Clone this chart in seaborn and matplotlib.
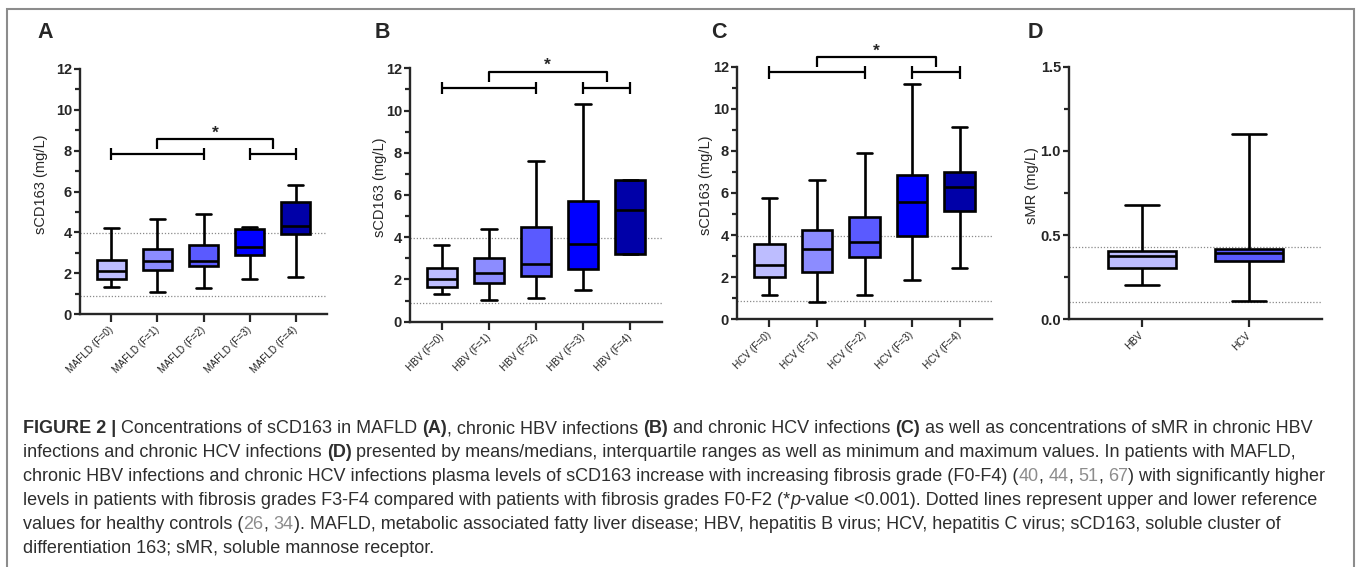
import numpy as np
import pandas as pd
import matplotlib
matplotlib.use("Agg")
import matplotlib.pyplot as plt
from matplotlib import font_manager
from matplotlib.patches import Rectangle
from matplotlib.ticker import MultipleLocator, FormatStrFormatter
import seaborn as sns

# five-number summaries: min, q1, median, q3, max
mafld_labels = ["MAFLD (F=0)", "MAFLD (F=1)", "MAFLD (F=2)", "MAFLD (F=3)", "MAFLD (F=4)"]
mafld_min = [1.32, 1.09, 1.27, 1.71, 1.79]
mafld_q1 = [1.71, 2.15, 2.35, 2.91, 3.91]
mafld_med = [2.12, 2.59, 2.60, 3.29, 4.30]
mafld_q3 = [2.65, 3.18, 3.39, 4.16, 5.51]
mafld_max = [4.23, 4.64, 4.90, 4.28, 6.34]

hbv_labels = ["HBV (F=0)", "HBV (F=1)", "HBV (F=2)", "HBV (F=3)", "HBV (F=4)"]
hbv_min = [1.31, 1.03, 1.14, 1.50, 3.19]
hbv_q1 = [1.66, 1.82, 2.18, 2.48, 3.19]
hbv_med = [2.02, 2.31, 2.72, 3.68, 5.29]
hbv_q3 = [2.56, 3.03, 4.50, 5.72, 6.73]
hbv_max = [3.62, 4.38, 7.61, 10.31, 6.73]

hcv_labels = ["HCV (F=0)", "HCV (F=1)", "HCV (F=2)", "HCV (F=3)", "HCV (F=4)"]
hcv_min = [1.14, 0.84, 1.14, 1.87, 2.42]
hcv_q1 = [2.03, 2.26, 2.95, 3.96, 5.16]
hcv_med = [2.58, 3.33, 3.66, 5.59, 6.30]
hcv_q3 = [3.58, 4.24, 4.88, 6.86, 7.02]
hcv_max = [5.78, 6.60, 7.89, 11.16, 9.14]

smr_labels = ["HBV", "HCV"]
smr_min = [0.202, 0.111]
smr_q1 = [0.307, 0.346]
smr_med = [0.376, 0.392]
smr_q3 = [0.406, 0.416]
smr_max = [0.679, 1.10]

# healthy-control reference limits (upper, lower)
scd163_ref = [3.95, 0.88]
smr_ref = [0.427, 0.101]

fib_colors = ["#BDBDFF", "#8C8CFF", "#5A5AFF", "#0000FF", "#0000A8"]
smr_colors = ["#BDBDFF", "#5A5AFF"]

caption_lines = [
    [("FIGURE 2 |", "b"), (" Concentrations of sCD163 in MAFLD ", "r"), ("(A)", "b"),
     (", chronic HBV infections ", "r"), ("(B)", "b"), (" and chronic HCV infections ", "r"),
     ("(C)", "b"), (" as well as concentrations of sMR in chronic HBV", "r")],
    [("infections and chronic HCV infections ", "r"), ("(D)", "b"),
     (" presented by means/medians, interquartile ranges as well as minimum and maximum values. In patients with MAFLD,", "r")],
    [("chronic HBV infections and chronic HCV infections plasma levels of sCD163 increase with increasing fibrosis grade (F0-F4) (", "r"),
     ("40", "g"), (", ", "r"), ("44", "g"), (", ", "r"), ("51", "g"), (", ", "r"), ("67", "g"),
     (") with significantly higher", "r")],
    [("levels in patients with fibrosis grades F3-F4 compared with patients with fibrosis grades F0-F2 (*", "r"),
     ("p", "i"), ("-value <0.001). Dotted lines represent upper and lower reference", "r")],
    [("values for healthy controls (", "r"), ("26", "g"), (", ", "r"), ("34", "g"),
     ("). MAFLD, metabolic associated fatty liver disease; HBV, hepatitis B virus; HCV, hepatitis C virus; sCD163, soluble cluster of", "r")],
    [("differentiation 163; sMR, soluble mannose receptor.", "r")],
]

W, H = 1357, 567

sns.set_style("ticks")
installed = {f.name for f in font_manager.fontManager.ttflist}


def pick(*names):
    for n in names:
        if n in installed:
            return n
    return "DejaVu Sans"


narrow = pick("Liberation Sans Narrow", "DejaVu Sans Condensed", "Liberation Sans")
sans = pick("Liberation Sans", "Arimo", "DejaVu Sans")
plt.rcParams["font.family"] = [sans, "DejaVu Sans"]

fig = plt.figure(figsize=(W / 100, H / 100), dpi=100)


def px_rect(left, right, top, bottom):
    return [left / W, 1 - bottom / H, (right - left) / W, (bottom - top) / H]


def draw_panel(ax, labels, mins, q1s, meds, q3s, maxs, colors, ref, ymax, major, minor,
               ylabel, label_off, width_px, fmt=None):
    rows = []
    for lab, *vals in zip(labels, mins, q1s, meds, q3s, maxs):
        for v in vals:
            rows.append((lab, v))
    df = pd.DataFrame(rows, columns=["group", "value"])
    sns.boxplot(data=df, x="group", y="value", hue="group", order=labels, hue_order=labels,
                palette=colors, whis=(0, 100), width=0.64, linewidth=1.9, linecolor="black",
                saturation=1, legend=False, ax=ax)
    for r in ref:
        ax.axhline(r, color="#8a8a8a", lw=0.9, ls=(0, (1, 1.5)), zorder=0.5)
    n = len(labels)
    ax.set_xlim(-0.68, n - 1 + 0.68)
    ax.set_ylim(0, ymax)
    ax.yaxis.set_major_locator(MultipleLocator(major))
    ax.yaxis.set_minor_locator(MultipleLocator(minor))
    if fmt:
        ax.yaxis.set_major_formatter(FormatStrFormatter(fmt))
    sns.despine(ax=ax)
    for s in ["left", "bottom"]:
        ax.spines[s].set_linewidth(1.7)
    ax.tick_params(axis="y", which="major", length=4.3, width=1.6, pad=1.5, labelsize=10.5)
    ax.tick_params(axis="y", which="minor", length=3.6, width=1.6)
    ax.tick_params(axis="x", length=5.8, width=1.6, pad=4.5)
    for t in ax.get_yticklabels():
        t.set_family([narrow, "DejaVu Sans"])
        t.set_fontweight("bold")
    ax.set_xticks(range(n))
    ax.set_xticklabels(labels, rotation=45, ha="right", rotation_mode="anchor", fontsize=7.2,
                       va="center", color="#222222")
    ax.set_xlabel("")
    ax.set_ylabel(ylabel, fontsize=10.5)
    ax.yaxis.set_label_coords(-label_off / width_px, 0.53)


def draw_brackets(ax, low_y, up_y, leg_y, half=0.3):
    kw = dict(color="black", lw=1.6, clip_on=False, solid_capstyle="butt")
    for a, b in [(0, 2), (3, 4)]:
        ax.plot([a, b], [low_y, low_y], **kw)
        ax.plot([a, a], [low_y - half, low_y + half], **kw)
        ax.plot([b, b], [low_y - half, low_y + half], **kw)
    ax.plot([1, 1, 3.5, 3.5], [leg_y, up_y, up_y, leg_y], **kw)
    ax.annotate("*", xy=(2.25, up_y), xytext=(0, -1), textcoords="offset points",
                ha="center", va="bottom", fontsize=12.5, fontweight="bold", annotation_clip=False)


ax_a = fig.add_axes(px_rect(80, 327, 69, 314))
ax_b = fig.add_axes(px_rect(410, 662, 68.3, 321.7))
ax_c = fig.add_axes(px_rect(737, 992, 66.7, 319.3))
ax_d = fig.add_axes(px_rect(1069, 1322, 66.7, 319.3))

draw_panel(ax_a, mafld_labels, mafld_min, mafld_q1, mafld_med, mafld_q3, mafld_max,
           fib_colors, scd163_ref, 12, 2, 1, "sCD163 (mg/L)", 32, 247)
draw_panel(ax_b, hbv_labels, hbv_min, hbv_q1, hbv_med, hbv_q3, hbv_max,
           fib_colors, scd163_ref, 12, 2, 1, "sCD163 (mg/L)", 23, 252)
draw_panel(ax_c, hcv_labels, hcv_min, hcv_q1, hcv_med, hcv_q3, hcv_max,
           fib_colors, scd163_ref, 12, 2, 1, "sCD163 (mg/L)", 24, 255)
draw_panel(ax_d, smr_labels, smr_min, smr_q1, smr_med, smr_q3, smr_max,
           smr_colors, smr_ref, 1.5, 0.5, 0.25, "sMR (mg/L)", 30, 253, fmt="%.1f")

draw_brackets(ax_a, 7.82, 8.57, 8.08)
draw_brackets(ax_b, 11.06, 11.84, 11.34)
draw_brackets(ax_c, 11.73, 12.45, 12.0)

for letter, xpx in [("A", 37), ("B", 375), ("C", 711), ("D", 1028)]:
    fig.text(xpx / W, 1 - 33 / H, letter, fontsize=15.5, fontweight="bold",
             ha="left", va="center")

# grey frame round the figure
fig.add_artist(Rectangle((7 / W, -0.1), (1354 - 7) / W, 1.1 - 9 / H, transform=fig.transFigure,
                         fill=False, edgecolor="#8c8c8c", lw=1.5))

# caption, drawn run by run
renderer = fig.canvas.get_renderer()


def style_kw(style, size):
    kw = dict(fontsize=size, family=[narrow, "DejaVu Sans"], color="#2e2e2e")
    if style == "b":
        kw["fontweight"] = "bold"
    elif style == "g":
        kw["color"] = "#8c8c8c"
    elif style == "i":
        kw["fontstyle"] = "italic"
    return kw


def ink_width(s, kw):
    t = fig.text(0, 0, s, **kw)
    w = t.get_window_extent(renderer).width
    t.remove()
    return w


def caption_line(runs, size, x0, y0=None):
    x = x0
    for s, style in runs:
        kw = style_kw(style, size)
        sw = ink_width("x x", kw) - ink_width("xx", kw)
        core = s.strip(" ")
        lead = len(s) - len(s.lstrip(" "))
        trail = len(s) - len(s.rstrip(" "))
        x += lead * sw
        if y0 is not None:
            fig.text(x / W, 1 - y0 / H, core, ha="left", va="baseline", **kw)
        x += ink_width(core, kw) + trail * sw
    return x - x0


base = 10
size = base * (1315 - 23) / caption_line(caption_lines[0], base, 0)
for i, runs in enumerate(caption_lines):
    caption_line(runs, size, 23, 433 + 24 * i)

fig.savefig("out.png", dpi=100)
